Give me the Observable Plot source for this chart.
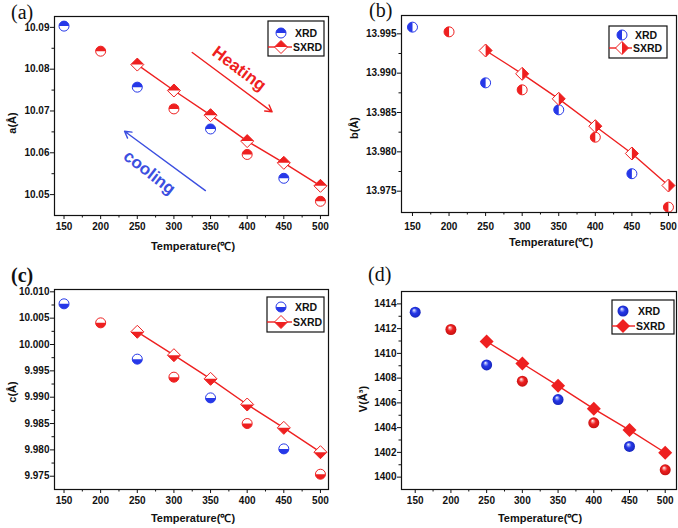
<!DOCTYPE html>
<html><head><meta charset="utf-8">
<script src="https://cdn.jsdelivr.net/npm/d3@7"></script>
<script src="https://cdn.jsdelivr.net/npm/@observablehq/plot@0.6"></script>
<style>
body{margin:0;background:#fff;}
#wrap{position:relative;width:678px;height:528px;overflow:hidden;background:#fff;}
#wrap svg{position:absolute;background:transparent;}
</style></head><body><div id="wrap"></div>
<script>
// ---------- data ----------
const temps = [150, 200, 250, 300, 350, 400, 450, 500];
const xrdSet = ["s1", "s2", "s1", "s2", "s1", "s2", "s1", "s2"];
const sxrdTemps = [250, 300, 350, 400, 450, 500];

const aXRD = [10.0903, 10.0843, 10.0757, 10.0705, 10.0657, 10.0596, 10.0539, 10.0484];
const aSXRD = [10.0811, 10.0749, 10.0690, 10.0628, 10.0576, 10.0521];
const bXRD = [13.99585, 13.99525, 13.98877, 13.98788, 13.98534, 13.98186, 13.97722, 13.97297];
const bSXRD = [13.99288, 13.98992, 13.98674, 13.98326, 13.97979, 13.97572];
const cXRD = [10.00772, 10.00411, 9.99722, 9.99380, 9.98987, 9.98500, 9.98019, 9.97538];
const cSXRD = [10.00241, 9.99797, 9.99348, 9.98861, 9.98418, 9.97956];
const vXRD = [1413.33, 1411.93, 1409.07, 1407.75, 1406.27, 1404.39, 1402.48, 1400.59];
const vSXRD = [1410.96, 1409.18, 1407.38, 1405.52, 1403.80, 1401.97];

const xTicks = [150, 200, 250, 300, 350, 400, 450, 500];
const xMinor = [175, 225, 275, 325, 375, 425, 475];
const aTicks = [10.05, 10.06, 10.07, 10.08, 10.09];
const aMinor = [10.055, 10.065, 10.075, 10.085];
const bTicks = [13.975, 13.980, 13.985, 13.990, 13.995];
const bMinor = [13.9775, 13.9825, 13.9875, 13.9925];
const cTicks = [9.975, 9.980, 9.985, 9.990, 9.995, 10.000, 10.005, 10.010];
const cMinor = [9.9775, 9.9825, 9.9875, 9.9925, 9.9975, 10.0025, 10.0075];
const vTicks = [1400, 1402, 1404, 1406, 1408, 1410, 1412, 1414];
const vMinor = [1401, 1403, 1405, 1407, 1409, 1411, 1413];

const seriesNames = ["XRD", "SXRD"];
const xLabelText = "Temperature(℃)";

// annotations for panel (a), in data units
const heatArrow = [{x1: 325, y1: 10.0840, x2: 434, y2: 10.0698}];
const coolArrow = [{x1: 343, y1: 10.05096, x2: 232.6, y2: 10.06514}];
const heatText = [{x: 389, y: 10.0801, label: "Heating"}];
const coolText = [{x: 266.7, y: 10.0553, label: "cooling"}];

// ---------- style ----------
const BLUE = "#2638e8", RED = "#ee2020", COOL = "#3c4fe0";
const SANS = "'Liberation Sans', Arial, sans-serif";
const SERIF = "'Liberation Serif', 'Times New Roman', serif";

function circ(part) {
  return {draw(ctx, size) {
    const r = Math.sqrt(size / Math.PI);
    if (part === "full") { ctx.moveTo(r, 0); ctx.arc(0, 0, r, 0, 2 * Math.PI); }
    else if (part === "top") { ctx.moveTo(-r, 0); ctx.arc(0, 0, r, Math.PI, 2 * Math.PI); }
    else if (part === "bottom") { ctx.moveTo(r, 0); ctx.arc(0, 0, r, 0, Math.PI); }
    else if (part === "left") { ctx.moveTo(0, -r); ctx.arc(0, 0, r, -Math.PI / 2, Math.PI / 2, true); }
    ctx.closePath();
  }};
}
function diam(part) {
  return {draw(ctx, size) {
    const r = Math.sqrt(size / Math.PI);
    const T = [0, -r], R = [r, 0], B = [0, r], L = [-r, 0];
    const pts = part === "full" ? [T, R, B, L] : part === "top" ? [L, T, R] :
      part === "bottom" ? [R, B, L] : [T, R, B];
    ctx.moveTo(...pts[0]);
    for (let i = 1; i < pts.length; i++) ctx.lineTo(...pts[i]);
    ctx.closePath();
  }};
}

const panels = [
  {id: "a", left: 0, top: 0, m: [16, 11, 49, 54], xd: [137, 511], yd: [10.0450, 10.0926],
   xrd: aXRD, sxrd: aSXRD, yt: aTicks, ym: aMinor, fmt: d3.format(".2f"),
   cpart: "top", dpart: "top", xpad: 3,
   plabel: {x: 11, y: 19, text: "(a)", bold: false}, ylab: {x: 12, y: 123, text: "a(Å)"}, xlab: {x: 193, y: 250},
   leg: {x: 268, y: 21, w: 56, h: 35, mx: 281, y1: 33, y2: 47, tx: 293}},
  {id: "b", left: 339, top: 0, m: [15, 2, 52, 62], xd: [135, 511], yd: [13.97229, 13.99733],
   xrd: bXRD, sxrd: bSXRD, yt: bTicks, ym: bMinor, fmt: d3.format(".3f"),
   cpart: "left", dpart: "right", xpad: 6,
   plabel: {x: 30, y: 17, text: "(b)", bold: false}, ylab: {x: 15, y: 128, text: "b(Å)"}, xlab: {x: 212, y: 246},
   leg: {x: 270, y: 26, w: 58, h: 32, mx: 283, y1: 35, y2: 48, tx: 294}},
  {id: "c", left: 0, top: 264, m: [25, 11, 39, 54], xd: [137, 511], yd: [9.97248, 10.01044],
   xrd: cXRD, sxrd: cSXRD, yt: cTicks, ym: cMinor, fmt: d3.format(".3f"),
   cpart: "bottom", dpart: "bottom", xpad: 3,
   plabel: {x: 11, y: 18, text: "(c)", bold: true}, ylab: {x: 12, y: 128, text: "c(Å)"}, xlab: {x: 193, y: 258},
   leg: {x: 267, y: 33, w: 57, h: 35, mx: 281, y1: 43, y2: 58, tx: 293}},
  {id: "d", left: 339, top: 264, m: [27, 2, 39, 62], xd: [130.8, 515.8], yd: [1399.0, 1415.0],
   xrd: vXRD, sxrd: vSXRD, yt: vTicks, ym: vMinor, fmt: d3.format("d"),
   cpart: "sphere", dpart: "full", xpad: 3,
   plabel: {x: 29, y: 17, text: "(d)", bold: false}, ylab: {x: 24, y: 135, text: "V(Å³)"}, xlab: {x: 201, y: 258},
   leg: {x: 273, y: 36, w: 62, h: 34, mx: 284, y1: 47, y2: 62, tx: 297}}
];

const wrap = document.getElementById("wrap");

for (const p of panels) {
  const xrd = temps.map((t, i) => ({t, v: p.xrd[i], s: xrdSet[i]}));
  const sx = sxrdTemps.map((t, i) => ({t, v: p.sxrd[i]}));
  const sphere = p.cpart === "sphere";
  const colorRange = sphere ? [`url(#sphB${p.id})`, `url(#sphR${p.id})`] : [BLUE, RED];

  const marks = [
    Plot.axisX(xTicks, {tickSize: 4, tickPadding: p.xpad, tickFormat: d => String(d), label: null, fontWeight: "bold", fontSize: 10}),
    Plot.axisX(xMinor, {tickSize: 2.5, tickFormat: () => "", label: null}),
    Plot.axisY(p.yt, {tickSize: 4, tickPadding: 1, tickFormat: p.fmt, label: null, fontWeight: "bold", fontSize: 10}),
    Plot.axisY(p.ym, {tickSize: 2.5, tickFormat: () => "", label: null}),
    Plot.line(sx, {x: "t", y: "v", stroke: RED, strokeWidth: 1.4})
  ];
  if (p.id === "a") {
    marks.push(
      Plot.arrow(heatArrow, {x1: "x1", y1: "y1", x2: "x2", y2: "y2", stroke: RED, strokeWidth: 1.4, headLength: 8}),
      Plot.arrow(coolArrow, {x1: "x1", y1: "y1", x2: "x2", y2: "y2", stroke: COOL, strokeWidth: 1.4, headLength: 8}),
      Plot.text(heatText, {x: "x", y: "y", text: "label", rotate: 37, fill: RED, fontSize: 17, fontWeight: "bold"}),
      Plot.text(coolText, {x: "x", y: "y", text: "label", rotate: 38, fill: COOL, fontSize: 17, fontWeight: "bold"})
    );
  }
  if (sphere) {
    marks.push(
      Plot.dot(xrd, {x: "t", y: "v", r: 5.5, symbol: "circle", fill: "s"}),
      Plot.dot(sx, {x: "t", y: "v", r: 7, symbol: diam("full"), fill: RED})
    );
  } else {
    marks.push(
      Plot.dot(xrd, {x: "t", y: "v", r: 5, symbol: circ("full"), fill: "white", stroke: "s", strokeWidth: 1}),
      Plot.dot(xrd, {x: "t", y: "v", r: 5, symbol: circ(p.cpart), fill: "s"}),
      Plot.dot(sx, {x: "t", y: "v", r: 6.5, symbol: diam("full"), fill: "white", stroke: RED, strokeWidth: 1}),
      Plot.dot(sx, {x: "t", y: "v", r: 6.5, symbol: diam(p.dpart), fill: RED})
    );
  }
  marks.push(Plot.frame({stroke: "#111", strokeWidth: 1.2}));

  const svg = Plot.plot({
    width: 339, height: 264,
    marginTop: p.m[0], marginRight: p.m[1], marginBottom: p.m[2], marginLeft: p.m[3],
    style: {fontFamily: SANS, fontSize: "10px", color: "#111", background: "transparent"},
    x: {domain: p.xd},
    y: {domain: p.yd},
    color: {type: "ordinal", domain: ["s1", "s2"], range: colorRange},
    marks
  });
  svg.style.left = p.left + "px";
  svg.style.top = p.top + "px";
  const s = d3.select(svg);

  if (sphere) {
    const defs = s.insert("defs", ":first-child");
    for (const [nm, c, dk, lt] of [["sphB", BLUE, "#1424b8", "#9aa6f7"], ["sphR", RED, "#c01010", "#f7a0a0"]]) {
      const g = defs.append("radialGradient").attr("id", nm + p.id)
        .attr("cx", "50%").attr("cy", "50%").attr("r", "55%").attr("fx", "38%").attr("fy", "30%");
      g.append("stop").attr("offset", "0%").attr("stop-color", "#ffffff");
      g.append("stop").attr("offset", "18%").attr("stop-color", lt);
      g.append("stop").attr("offset", "45%").attr("stop-color", c);
      g.append("stop").attr("offset", "100%").attr("stop-color", dk);
    }
  }

  // panel label
  s.append("text").attr("x", p.plabel.x).attr("y", p.plabel.y).attr("text-anchor", "start")
    .attr("font-family", SERIF).attr("font-size", 20).attr("font-weight", p.plabel.bold ? "bold" : "normal")
    .attr("fill", "#111").text(p.plabel.text);
  // y label
  s.append("text").attr("transform", `translate(${p.ylab.x},${p.ylab.y}) rotate(-90)`)
    .attr("text-anchor", "middle").attr("dy", "0.35em")
    .attr("font-family", SANS).attr("font-size", 11).attr("font-weight", "bold").attr("fill", "#111")
    .text(p.ylab.text);
  // x label
  s.append("text").attr("x", p.xlab.x).attr("y", p.xlab.y).attr("text-anchor", "middle")
    .attr("font-family", SANS).attr("font-size", 11).attr("font-weight", "bold").attr("fill", "#111")
    .text(xLabelText);

  // legend
  const L = p.leg;
  const lg = s.append("g");
  lg.append("rect").attr("x", L.x).attr("y", L.y).attr("width", L.w).attr("height", L.h)
    .attr("fill", "white").attr("stroke", "#111").attr("stroke-width", 1.2);
  lg.append("line").attr("x1", L.x).attr("x2", L.tx - 1).attr("y1", L.y2).attr("y2", L.y2)
    .attr("stroke", RED).attr("stroke-width", 1.4);
  const symPath = (sym, r) => { const pa = d3.path(); sym.draw(pa, r * r * Math.PI); return pa.toString(); };
  const put = (sym, r, y, attrs) => {
    const e = lg.append("path").attr("d", symPath(sym, r)).attr("transform", `translate(${L.mx},${y})`);
    for (const k in attrs) e.attr(k, attrs[k]);
  };
  if (sphere) {
    put(circ("full"), 5.5, L.y1, {fill: `url(#sphB${p.id})`});
    put(diam("full"), 7, L.y2, {fill: RED});
  } else {
    put(circ("full"), 5, L.y1, {fill: "white", stroke: BLUE, "stroke-width": 1});
    put(circ(p.cpart), 5, L.y1, {fill: BLUE});
    put(diam("full"), 6.5, L.y2, {fill: "white", stroke: RED, "stroke-width": 1});
    put(diam(p.dpart), 6.5, L.y2, {fill: RED});
  }
  seriesNames.forEach((nm, i) => {
    lg.append("text").attr("x", L.tx + (i === 0 ? 2 : 0)).attr("y", i === 0 ? L.y1 : L.y2).attr("dy", "0.35em")
      .attr("text-anchor", "start")
      .attr("font-family", SANS).attr("font-size", 10.5).attr("font-weight", "bold").attr("fill", "#111").text(nm);
  });

  wrap.appendChild(svg);
}
</script></body></html>
